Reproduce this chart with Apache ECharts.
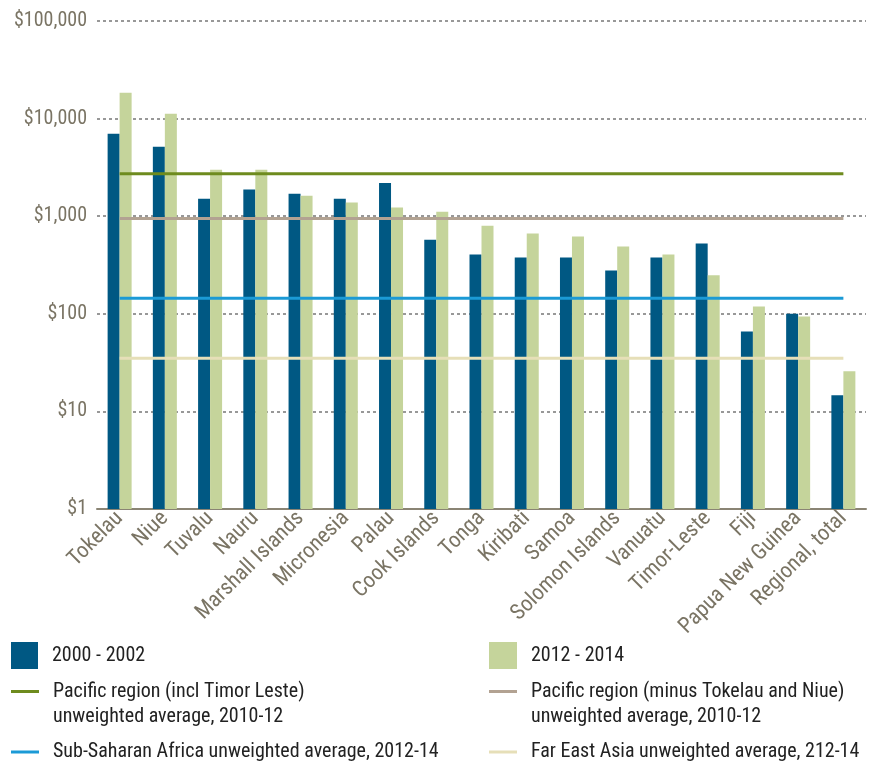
<!DOCTYPE html>
<html><head><meta charset="utf-8">
<script src="https://cdn.jsdelivr.net/npm/echarts@6/dist/echarts.min.js"></script>
<style>html,body{margin:0;padding:0;background:#fff}#c{width:877px;height:763px}</style>
</head><body><div id="c"></div>
<script>
const categories = ['Tokelau','Niue','Tuvalu','Nauru','Marshall Islands','Micronesia','Palau','Cook Islands','Tonga','Kiribati','Samoa','Solomon Islands','Vanuatu','Timor-Leste','Fiji','Papua New Guinea','Regional, total'];
const values2000 = [7000, 5150, 1510, 1880, 1700, 1510, 2190, 575, 405, 378, 378, 278, 378, 525, 66, 100, 14.6];
const values2012 = [18400, 11200, 2990, 2990, 1620, 1380, 1230, 1110, 800, 664, 619, 490, 405, 248, 119, 94, 25.8];
const pacificAvgIncl = 2730;
const pacificAvgMinus = 945;
const ssaAvg = 144;
const feaAvg = 35;

const FONT = '"Liberation Sans Narrow","Arial Narrow","Roboto Condensed",Roboto,sans-serif';
const AX = '#7a7464';
const names = {
  a: '2000 - 2002',
  b: '2012 - 2014',
  c: 'Pacific region (incl Timor Leste)',
  d: 'Pacific region (minus Tokelau and Niue)',
  e: 'Sub-Saharan Africa unweighted average, 2012-14',
  f: 'Far East Asia unweighted average, 212-14'
};
function avgLine(name, v, color, z) {
  return {
    name: name, type: 'line', symbol: 'none', z: z,
    lineStyle: {color: color, width: 3}, itemStyle: {color: color},
    data: [[categories[0], v], [categories[categories.length - 1], v]]
  };
}
const chart = echarts.init(document.getElementById('c'));
const legText = {fontFamily: FONT, fontSize: 20, color: '#222', padding: [0, 0, 0, 9]};
const legendBase = {selectedMode: false, padding: 0};
chart.setOption({
  animation: false,
  grid: {left: 97, top: 21, right: 11, bottom: 254, containLabel: false},
  xAxis: {
    type: 'category', data: categories,
    axisLine: {lineStyle: {color: '#8a8474', width: 2}},
    axisTick: {show: false},
    axisLabel: {rotate: 45, interval: 0, fontFamily: FONT, fontSize: 22, color: AX, margin: 6}
  },
  yAxis: {
    type: 'log', logBase: 10, min: 1, max: 100000,
    axisLine: {show: false}, axisTick: {show: false},
    axisLabel: {fontFamily: FONT, fontSize: 20, color: AX, margin: 10,
      formatter: v => '$' + Number(v).toLocaleString('en-US')},
    splitLine: {lineStyle: {color: '#777', type: [3, 3], width: 1.5}}
  },
  legend: [
    Object.assign({}, legendBase, {left: 11, top: 642, itemWidth: 27, itemHeight: 27, textStyle: legText, data: [{name: names.a, icon: 'rect'}]}),
    Object.assign({}, legendBase, {left: 489, top: 642, itemWidth: 28, itemHeight: 27, textStyle: legText, data: [{name: names.b, icon: 'rect'}]}),
    Object.assign({}, legendBase, {left: 11, top: 654, itemWidth: 28, itemHeight: 3, data: [{name: names.c, icon: 'rect'}],
      formatter: n => '\n' + n + '\nunweighted average, 2010-12', textStyle: Object.assign({}, legText, {lineHeight: 25})}),
    Object.assign({}, legendBase, {left: 489, top: 654, itemWidth: 28, itemHeight: 3, data: [{name: names.d, icon: 'rect'}],
      formatter: n => '\n' + n + '\nunweighted average, 2010-12', textStyle: Object.assign({}, legText, {lineHeight: 25})}),
    Object.assign({}, legendBase, {left: 11, top: 742, itemWidth: 28, itemHeight: 3, textStyle: legText, data: [{name: names.e, icon: 'rect'}]}),
    Object.assign({}, legendBase, {left: 489, top: 742, itemWidth: 28, itemHeight: 3, textStyle: legText, data: [{name: names.f, icon: 'rect'}]})
  ],
  series: [
    {name: names.a, type: 'bar', data: values2000, barWidth: 12, barGap: '0%', itemStyle: {color: '#005883'}, z: 2},
    {name: names.b, type: 'bar', data: values2012, barWidth: 12, barGap: '0%', itemStyle: {color: '#c5d49b'}, z: 2},
    avgLine(names.c, pacificAvgIncl, '#6e8b1e', 5),
    avgLine(names.d, pacificAvgMinus, '#b2a292', 5),
    avgLine(names.e, ssaAvg, '#1b9ad6', 5),
    avgLine(names.f, feaAvg, '#e6dfb8', 5)
  ]
});
</script></body></html>
